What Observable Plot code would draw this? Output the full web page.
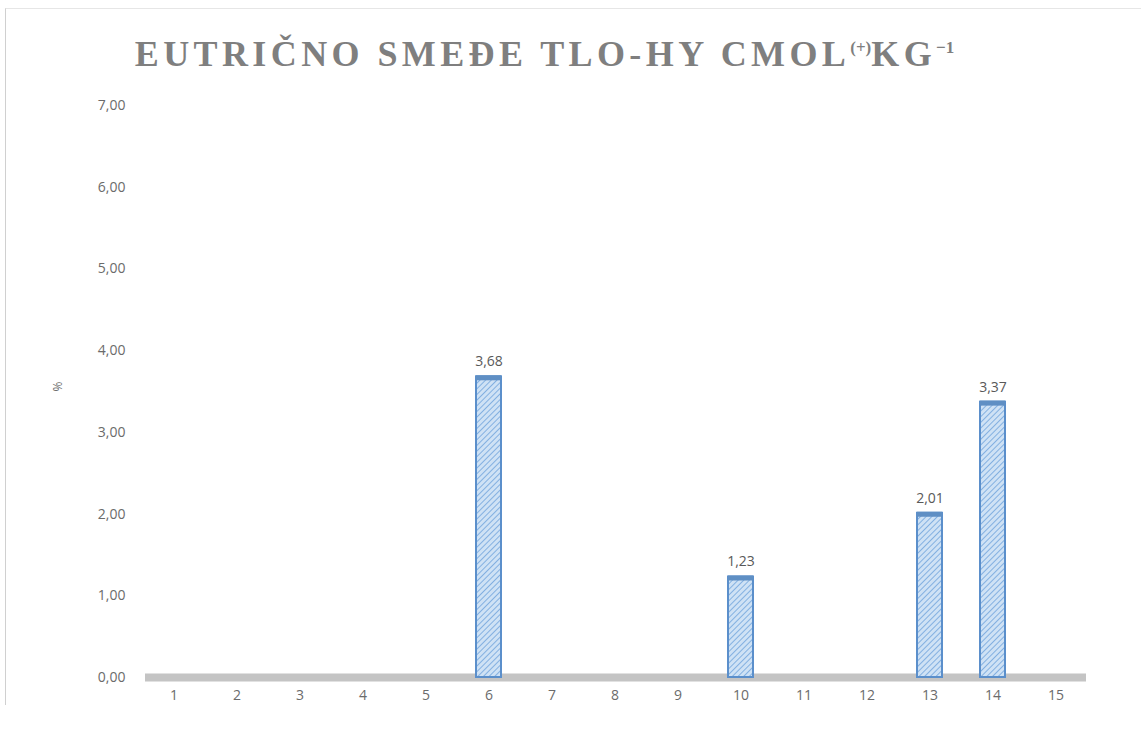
<!DOCTYPE html>
<html>
<head>
<meta charset="utf-8">
<script src="https://cdn.jsdelivr.net/npm/d3@7"></script>
<script src="https://cdn.jsdelivr.net/npm/@observablehq/plot@0.6"></script>
<style>
  html, body { margin: 0; padding: 0; background: #fff; }
  #frame { position: absolute; left: 5px; top: 8px; width: 1140px; height: 697px; border-left: 1.5px solid #d0d0d0; border-top: 1px solid #e6e6e6; box-sizing: border-box; }
  #wrap { position: relative; width: 1141px; }
  #title { height: 90px; box-sizing: border-box; padding-top: 34px; text-align: center; padding-right: 52px; white-space: nowrap;
    font-family: "Liberation Serif", "DejaVu Serif", serif; font-weight: bold; font-size: 36px; color: #7f7f7f; letter-spacing: 4.4px; line-height: 40px; }
  #title sup { font-size: 17px; vertical-align: 0; position: relative; top: -13px; letter-spacing: 0; }
</style>
</head>
<body>
<div id="frame"></div>
<div id="wrap">
  <div id="title">EUTRIČNO SMEĐE TLO-HY CMOL<sup>(+)</sup>KG<sup>−1</sup></div>
  <div id="chart"></div>
</div>
<script>
const categories = [1,2,3,4,5,6,7,8,9,10,11,12,13,14,15];
const values = [null,null,null,null,null,3.68,null,null,null,1.23,null,null,2.01,3.37,null];
const yTicks = [0,1,2,3,4,5,6,7];
const yLabel = "%";

const data = categories.map((c, i) => ({cat: c, v: values[i]}));
const bars = data.filter(d => d.v != null);
const fmt = d => d.toFixed(2).replace(".", ",");

const chart = Plot.plot({
  width: 1141,
  height: 641,
  marginTop: 15,
  marginBottom: 54,
  marginLeft: 139,
  marginRight: 51,
  x: {domain: categories, paddingInner: 0.6, paddingOuter: 0.3, label: null, tickSize: 0, tickPadding: 13},
  y: {domain: [0, 7], ticks: yTicks, tickFormat: fmt, label: null, tickSize: 0, tickPadding: 14},
  style: {fontFamily: "'Open Sans', 'Liberation Sans', sans-serif", fontSize: "14px", color: "#6b6b6b", background: "transparent"},
  marks: [
    Plot.ruleY([0], {stroke: "#c4c4c4", strokeWidth: 8, insetLeft: 6, insetRight: 4}),
    Plot.barY(bars, {x: "cat", y: "v", fill: "url(#hatch)", stroke: "#5b8fcb", strokeWidth: 2}),
    Plot.tickY(bars, {x: "cat", y: "v", stroke: "#5f8fc4", strokeWidth: 5, dy: 1}),
    Plot.text(bars, {x: "cat", y: "v", text: d => fmt(d.v), dy: -15, fill: "#595959", fontSize: 14}),
    Plot.text([yLabel], {frameAnchor: "left", dx: -81, rotate: -90, fill: "#6b6b6b", fontSize: 12})
  ]
});

const svg = d3.select(chart);
const defs = svg.insert("defs", ":first-child");
const pat = defs.append("pattern")
  .attr("id", "hatch").attr("patternUnits", "userSpaceOnUse")
  .attr("width", 4).attr("height", 4)
  .attr("patternTransform", "rotate(45)");
pat.append("rect").attr("width", 4).attr("height", 4).attr("fill", "#cfe2f5");
pat.append("line").attr("x1", 0).attr("y1", 0).attr("x2", 0).attr("y2", 4)
  .attr("stroke", "#6fa3dc").attr("stroke-width", 1.6);

document.getElementById("chart").appendChild(chart);
</script>
</body>
</html>
